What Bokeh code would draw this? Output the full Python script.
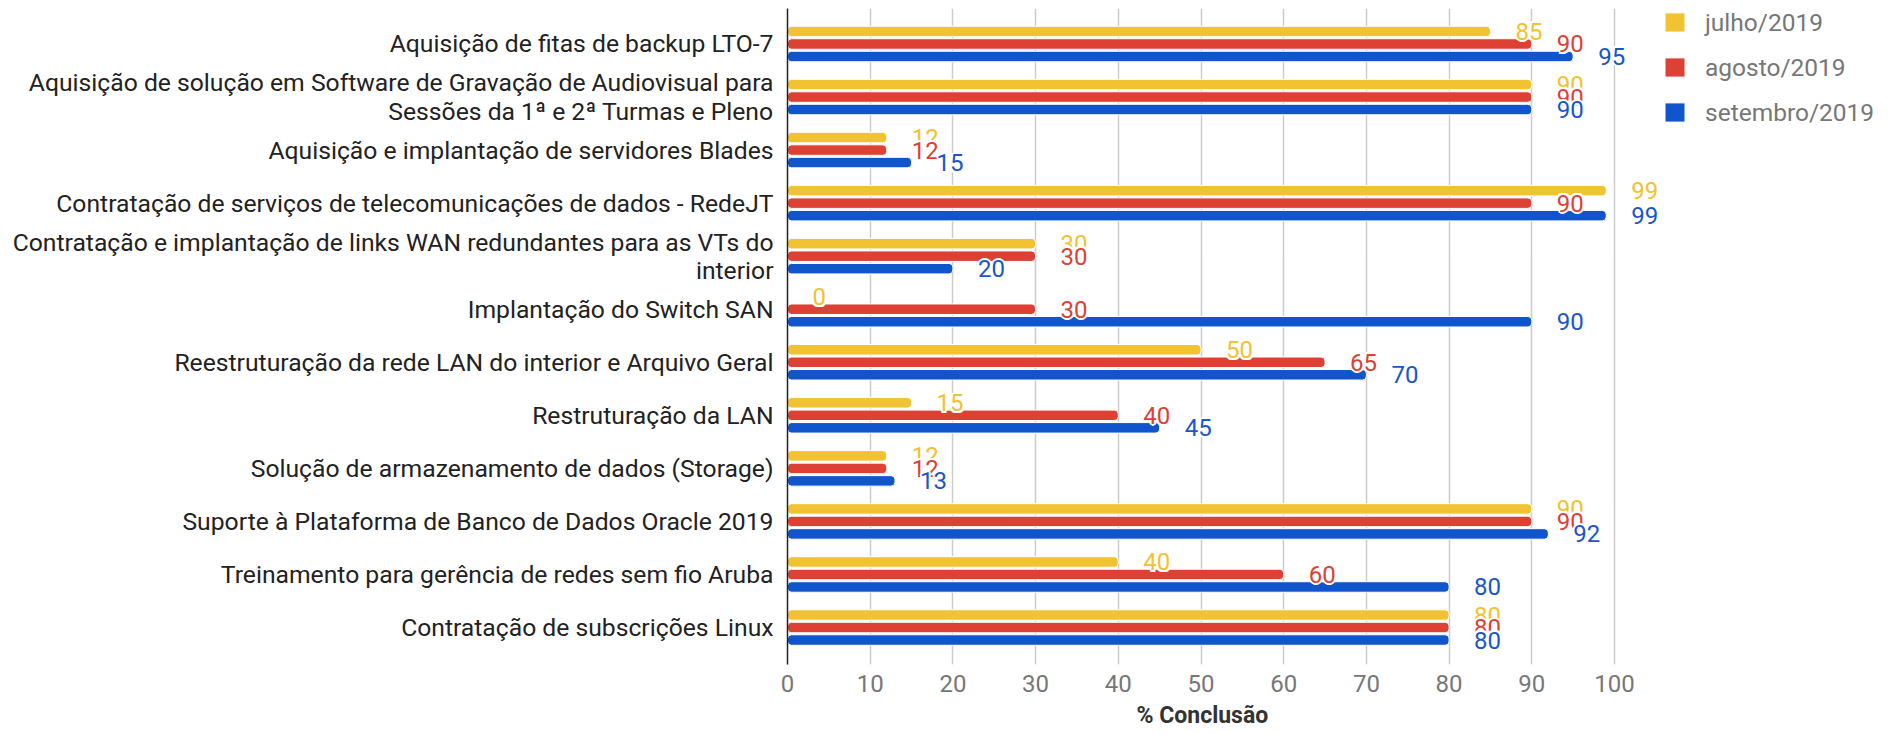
from bokeh.plotting import figure
from bokeh.models import ColumnDataSource, Range1d, FixedTicker, Legend, LegendItem, Title
from bokeh.core.properties import value
from bokeh.embed import file_html
from bokeh.resources import INLINE

categories = [
    "Aquisição de fitas de backup LTO-7",
    "Aquisição de solução em Software de Gravação de Audiovisual para\nSessões da 1ª e 2ª Turmas e Pleno",
    "Aquisição e implantação de servidores Blades",
    "Contratação de serviços de telecomunicações de dados - RedeJT",
    "Contratação e implantação de links WAN redundantes para as VTs do\ninterior",
    "Implantação do Switch SAN",
    "Reestruturação da rede LAN do interior e Arquivo Geral",
    "Restruturação da LAN",
    "Solução de armazenamento de dados (Storage)",
    "Suporte à Plataforma de Banco de Dados Oracle 2019",
    "Treinamento para gerência de redes sem fio Aruba",
    "Contratação de subscrições Linux",
]
julho = [85, 90, 12, 99, 30, 0, 50, 15, 12, 90, 40, 80]
agosto = [90, 90, 12, 90, 30, 30, 65, 40, 12, 90, 60, 80]
setembro = [95, 90, 15, 99, 20, 90, 70, 45, 13, 92, 80, 80]
series_names = ["julho/2019", "agosto/2019", "setembro/2019"]
series_colors = ["#F1C232", "#DC4134", "#1155CC"]
label_colors = ["#F1C232", "#DC4134", "#1A56C8"]
x_ticks = [0, 10, 20, 30, 40, 50, 60, 70, 80, 90, 100]
x_title = "% Conclusão"

FONT = "Roboto"
ROW_PX = 53.05
OFFSET = 12.5 / ROW_PX
BAR_H = 10.5 / ROW_PX
PX_PER_UNIT = 8.27
FRAME_LEFT = 787
FIG_W = 1880

p = figure(
    width=FIG_W, height=734,
    x_range=Range1d(0, (FIG_W - FRAME_LEFT) / PX_PER_UNIT),
    y_range=Range1d(11.697, -0.669),
    output_backend="svg", toolbar_location=None,
    min_border_left=FRAME_LEFT, min_border_right=0, min_border_top=8, min_border_bottom=70,
)
p.outline_line_color = None
p.background_fill_color = "white"

series = [julho, agosto, setembro]
renderers = []
for k, (vals, col, lcol) in enumerate(zip(series, series_colors, label_colors)):
    off = (k - 1) * OFFSET
    ys = [i + off for i in range(len(categories))]
    src = ColumnDataSource(dict(y=ys, x=vals, t=[str(v) for v in vals]))
    kw = dict(y="y", right="x", left=0, height=BAR_H, fill_color=col,
              line_color="white", line_width=1, source=src)
    try:
        r = p.hbar(border_radius=4, **kw)
    except Exception:
        r = p.hbar(**kw)
    renderers.append((r, src, lcol))

halo = [(-2, 0), (2, 0), (0, -2), (0, 2), (-1.5, -1.5), (1.5, -1.5), (-1.5, 1.5), (1.5, 1.5)]
for r, src, lcol in renderers:
    base = dict(x="x", y="y", text="t", source=src,
                text_align="left", text_baseline="middle",
                text_font=value(FONT), text_font_size="24px")
    for dx, dy in halo:
        p.text(x_offset=25 + dx, y_offset=dy, text_color="white", **base)
    p.text(x_offset=25, text_color=lcol, **base)

# axes
p.xaxis.ticker = FixedTicker(ticks=x_ticks)
p.xaxis.axis_line_color = None
p.xaxis.major_tick_line_color = None
p.xaxis.minor_tick_line_color = None
p.xaxis.major_tick_out = 0
p.xaxis.major_tick_in = 0
p.xaxis.major_label_standoff = 10
p.xaxis.major_label_text_font = FONT
p.xaxis.major_label_text_font_size = "24px"
p.xaxis.major_label_text_color = "#777777"

# axis title centred under the 0-100 scale
title_w = 129
t = Title(text=x_title, align="left", offset=(50 * PX_PER_UNIT) - title_w / 2,
          text_font=FONT, text_font_style="bold", text_font_size="23px",
          text_color="#333333", standoff=11)
p.add_layout(t, "below")

p.yaxis.ticker = FixedTicker(ticks=list(range(len(categories))))
p.yaxis.major_label_overrides = {i: c for i, c in enumerate(categories)}
p.yaxis.axis_line_color = "#222222"
p.yaxis.axis_line_width = 1.5
p.yaxis.major_tick_line_color = None
p.yaxis.minor_tick_line_color = None
p.yaxis.major_tick_out = 0
p.yaxis.major_tick_in = 0
p.yaxis.major_label_standoff = 14
p.yaxis.major_label_text_font = FONT
p.yaxis.major_label_text_font_size = "24.7px"
p.yaxis.major_label_text_line_height = 0.97
p.yaxis.major_label_text_color = "#222222"

p.ygrid.visible = False
p.xgrid.grid_line_color = "#cccccc"
p.xgrid.grid_line_width = 1.5

legend = Legend(
    items=[LegendItem(label=n, renderers=[r[0]]) for n, r in zip(series_names, renderers)],
    location=(875, 537),
    padding=0, margin=0, spacing=15,
    glyph_width=25, glyph_height=24, label_height=30, label_standoff=18,
    label_text_font=FONT, label_text_font_size="24.5px", label_text_color="#777777",
    border_line_color=None, background_fill_alpha=0,
)
p.add_layout(legend, "center")

open("out.html", "w").write(file_html(p, INLINE))
